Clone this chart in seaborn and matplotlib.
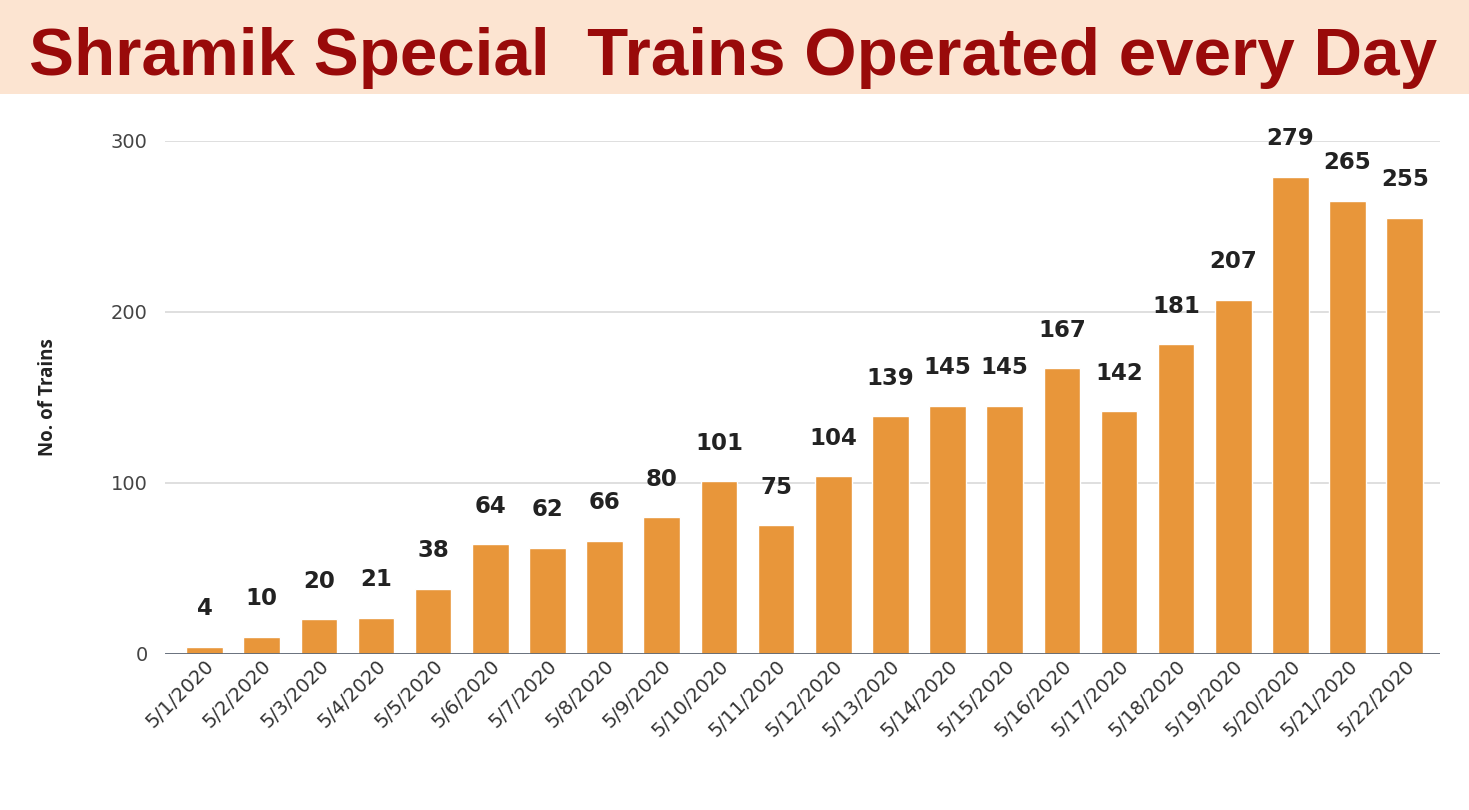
import seaborn as sns
import matplotlib.pyplot as plt
import pandas as pd
import numpy as np

# Data
dates = ['5/1/2020', '5/2/2020', '5/3/2020', '5/4/2020', '5/5/2020', '5/6/2020',
         '5/7/2020', '5/8/2020', '5/9/2020', '5/10/2020', '5/11/2020', '5/12/2020',
         '5/13/2020', '5/14/2020', '5/15/2020', '5/16/2020', '5/17/2020', '5/18/2020',
         '5/19/2020', '5/20/2020', '5/21/2020', '5/22/2020']
trains = [4, 10, 20, 21, 38, 64, 62, 66, 80, 101, 75, 104,
          139, 145, 145, 167, 142, 181, 207, 279, 265, 255]
y_ticks = [0, 100, 200, 300]

df = pd.DataFrame({'date': dates, 'trains': trains})

sns.set_theme(style='white')
plt.rcParams['font.family'] = ['DejaVu Sans']

fig = plt.figure(figsize=(14.69, 8.1), dpi=100)
fig.patch.set_facecolor('white')

# Peach title band
band = plt.Rectangle((0, 0.884), 1, 0.116, transform=fig.transFigure,
                     facecolor='#FCE4D1', edgecolor='none', zorder=0)
fig.patches.append(band)
fig.text(0.020, 0.928, 'Shramik Special  Trains Operated every Day',
         fontsize=48.5, fontweight='bold', color='#990A0A',
         family=['Liberation Sans', 'DejaVu Sans'], ha='left', va='center')

ax = fig.add_axes([0.112, 0.193, 0.868, 0.633])
sns.barplot(data=df, x='date', y='trains', color='#E8963A', saturation=1,
            width=0.64, ax=ax, zorder=3)

# Value labels above the bars
ax.bar_label(ax.containers[0], labels=[str(v) for v in trains], padding=19,
             fontsize=16.5, fontweight='bold', color='#222222', clip_on=False)

ax.set_ylim(0, 300)
ax.set_xlim(-0.7, len(dates) - 1 + 0.61)
ax.set_yticks(y_ticks)
ax.yaxis.grid(True, color='#D9D9D9', linewidth=1.2, zorder=0)
ax.axhline(0, color='#5E6875', linewidth=2, zorder=4)
for s in ax.spines.values():
    s.set_visible(False)

ax.tick_params(axis='y', labelsize=14, labelcolor='#444444', pad=12, length=0)
ax.tick_params(axis='x', labelsize=14, labelcolor='#333333', pad=2, length=0)
plt.setp(ax.get_xticklabels(), rotation=45, ha='right', rotation_mode='anchor')

ax.set_xlabel('')
ax.set_ylabel('No. of Trains', fontsize=13.5, fontweight='bold', color='#222222',
              family=['Open Sans', 'DejaVu Sans'], labelpad=38)

fig.savefig('out.png', dpi=100, facecolor=fig.get_facecolor())
